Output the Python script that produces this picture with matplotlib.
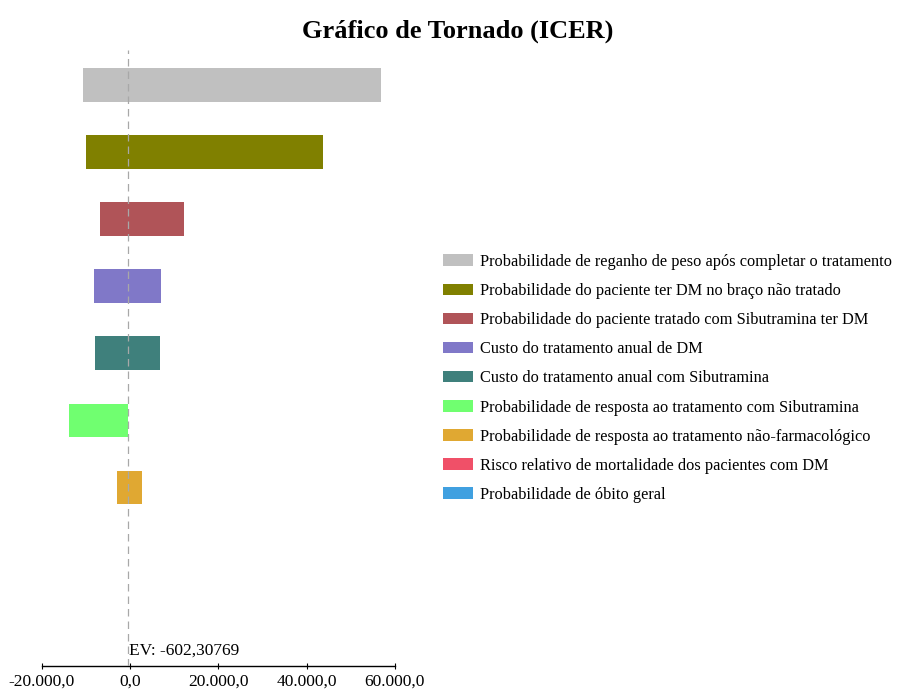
import matplotlib
matplotlib.use('Agg')
import matplotlib.pyplot as plt
from matplotlib.patches import Patch
from matplotlib.ticker import FuncFormatter

plt.rcParams['font.family'] = ['Liberation Serif', 'DejaVu Serif']

# dados do tornado (ICER)
variaveis = [
    'Probabilidade de reganho de peso após completar o tratamento',
    'Probabilidade do paciente ter DM no braço não tratado',
    'Probabilidade do paciente tratado com Sibutramina ter DM',
    'Custo do tratamento anual de DM',
    'Custo do tratamento anual com Sibutramina',
    'Probabilidade de resposta ao tratamento com Sibutramina',
    'Probabilidade de resposta ao tratamento não-farmacológico',
    'Risco relativo de mortalidade dos pacientes com DM',
    'Probabilidade de óbito geral',
]
minimos = [-10600, -10100, -6800, -8100, -7900, -13900, -3000, -602.30769, -602.30769]
maximos = [56800, 43700, 12200, 6900, 6700, -602.30769, 2700, -602.30769, -602.30769]
cores = ['#c0c0c0', '#808000', '#b05458', '#8078c8', '#3f807c',
         '#70ff70', '#e0a832', '#f05068', '#40a0e0']
ev = -602.30769
ticks_x = [-20000, 0, 20000, 40000, 60000]

fig = plt.figure(figsize=(9.01, 6.93), dpi=100)
ax = fig.add_axes([0.0466, 0.039, 0.3916, 0.889])

pos = list(range(len(variaveis)))
larguras = [mx - mn for mn, mx in zip(minimos, maximos)]
ax.barh(pos, larguras, left=minimos, height=0.5, color=cores)

ax.axvline(ev, color='#a8a8a8', linestyle=(0, (6, 4)), linewidth=0.9, zorder=3)
ax.text(ev + 300, 8.55, 'EV: -602,30769', fontsize=12.5, va='bottom', ha='left')

ax.set_xlim(-20000, 60000)
ax.set_ylim(8.66, -0.52)
ax.set_xticks(ticks_x)
fmt = lambda v, p: ('{:,.1f}'.format(v)).replace(',', 'X').replace('.', ',').replace('X', '.')
ax.xaxis.set_major_formatter(FuncFormatter(fmt))
ax.tick_params(axis='x', direction='inout', length=5, labelsize=12.5, pad=3)
ax.set_yticks([])
for s in ['top', 'right', 'left']:
    ax.spines[s].set_visible(False)
ax.spines['bottom'].set_linewidth(1.0)

fig.text(0.508, 0.955, 'Gráfico de Tornado (ICER)', ha='center', va='center',
         fontsize=19, fontweight='bold')

handles = [Patch(facecolor=c, edgecolor='none') for c in cores]
fig.legend(handles, variaveis, loc='upper left', bbox_to_anchor=(0.4845, 0.643),
           frameon=False, fontsize=11.8, handlelength=1.8, handleheight=0.7,
           labelspacing=0.8, handletextpad=0.45, borderaxespad=0)

plt.savefig('out.png', dpi=100)
